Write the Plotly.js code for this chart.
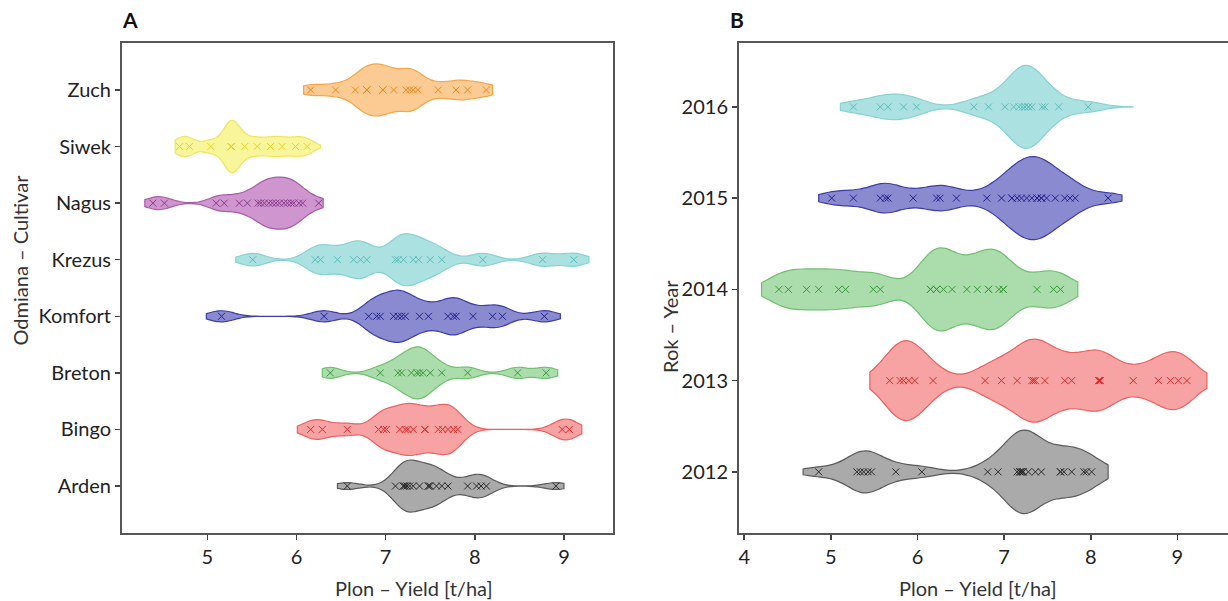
<!DOCTYPE html>
<html>
<head>
<meta charset="utf-8">
<script src="https://cdn.plot.ly/plotly-3.0.1.min.js"></script>
<style>
html,body{margin:0;padding:0;overflow:hidden;background:#fff;}
#chart{width:1240px;height:601px;}
</style>
</head>
<body>
<div id="chart"></div>
<script>
// ---------- Panel A: cultivars ----------
const cultivars = ["Arden","Bingo","Breton","Komfort","Krezus","Nagus","Siwek","Zuch"];
const arden   = [6.57,7.11,7.20,7.20,7.22,7.24,7.27,7.31,7.38,7.48,7.48,7.50,7.57,7.63,7.70,7.92,8.02,8.07,8.13,8.91];
const bingo   = [6.16,6.29,6.57,6.92,6.98,7.01,7.16,7.22,7.25,7.31,7.44,7.44,7.59,7.64,7.70,7.76,7.81,8.98,9.06];
const breton  = [6.38,6.94,7.14,7.18,7.29,7.35,7.38,7.42,7.50,7.63,7.92,8.48,8.80];
const komfort = [5.16,6.31,6.81,6.90,6.94,7.09,7.14,7.18,7.22,7.38,7.48,7.70,7.76,7.79,7.98,8.20,8.31,8.78];
const krezus  = [5.51,6.21,6.27,6.46,6.64,6.72,6.79,7.11,7.14,7.20,7.31,7.37,7.50,7.63,8.09,8.76,9.11];
const nagus   = [4.39,4.52,5.10,5.19,5.36,5.45,5.57,5.60,5.64,5.69,5.73,5.77,5.81,5.86,5.90,5.94,5.97,6.03,6.07,6.25];
const siwek   = [4.69,4.80,5.04,5.27,5.27,5.27,5.27,5.42,5.56,5.71,5.84,5.99,6.12];
const zuch    = [6.16,6.44,6.66,6.79,6.79,6.79,6.97,6.97,6.97,7.09,7.23,7.27,7.31,7.36,7.59,7.79,7.92,8.13];
const cultivarData  = [arden,bingo,breton,komfort,krezus,nagus,siwek,zuch];
const cultivarSpans = [[6.46,9.00],[6.01,9.20],[6.29,8.93],[4.99,8.96],[5.32,9.28],[4.30,6.30],[4.64,6.27],[6.08,8.20]];

// ---------- Panel B: years ----------
const years = ["2012","2013","2014","2015","2016"];
const y2012 = [4.86,5.30,5.34,5.38,5.43,5.47,5.75,6.05,6.81,6.93,7.15,7.18,7.18,7.20,7.20,7.22,7.22,7.28,7.36,7.43,7.65,7.65,7.69,7.78,7.92,7.95,8.01];
const y2013 = [5.68,5.80,5.84,5.90,5.97,6.18,6.78,6.97,7.15,7.32,7.34,7.36,7.47,7.70,7.78,8.09,8.10,8.11,8.49,8.78,8.92,9.01,9.11];
const y2014 = [4.40,4.51,4.72,4.86,5.09,5.17,5.49,5.57,6.15,6.15,6.22,6.22,6.30,6.40,6.57,6.69,6.82,6.82,6.94,6.99,6.99,7.38,7.57,7.65];
const y2015 = [5.01,5.26,5.57,5.63,5.66,5.95,6.22,6.26,6.45,6.80,6.97,7.09,7.09,7.15,7.20,7.26,7.32,7.38,7.38,7.43,7.43,7.49,7.59,7.70,7.76,7.82,8.20];
const y2016 = [5.26,5.57,5.66,5.84,5.99,6.65,6.82,7.01,7.11,7.17,7.21,7.24,7.24,7.28,7.28,7.32,7.44,7.47,7.63,7.97];
const yearData  = [y2012,y2013,y2014,y2015,y2016];
const yearSpans = [[4.68,8.20],[5.45,9.34],[4.20,7.85],[4.86,8.36],[5.11,8.49]];

// ---------- styles ----------
const cultFill = ["#aaaaaa","#f7a3a3","#abdcab","#8a8ad0","#abe1e1","#cf95cf","#f9f59a","#fccb93"];
const cultLine = ["#5a5a5a","#ec6060","#70c070","#3c3ca8","#86d2d2","#a85ca8","#eee560","#f5a64a"];
const cultMark = ["#2a2a2a","#e02828","#3a9a3a","#22228a","#5cbcbc","#8a3a8a","#e2d21e","#ef8a1e"];
const cultBw   = [0.13,0.13,0.12,0.14,0.14,0.12,0.09,0.13];
const yearFill = ["#aaaaaa","#f7a3a3","#abdcab","#8a8ad0","#abe1e1"];
const yearLine = ["#5a5a5a","#ec6060","#70c070","#3c3ca8","#86d2d2"];
const yearMark = ["#2a2a2a","#e02828","#3a9a3a","#22228a","#5cbcbc"];
const yearBw   = [0.2,0.2,0.2,0.18,0.18];

const traces = [];
function addViolin(vals, cat, span, fill, line, mark, xa, ya, bw, w){
  traces.push({
    type:"violin", orientation:"h",
    x: vals, y: vals.map(()=>cat),
    xaxis:xa, yaxis:ya,
    spanmode:"manual", span: span,
    bandwidth: bw, scalemode:"width", width: w,
    fillcolor: fill, line:{color: line, width:1.2},
    points:"all", jitter:0, pointpos:0,
    marker:{symbol:"x-thin", size:7, color: mark, line:{color: mark, width:1}},
    box:{visible:false}, meanline:{visible:false},
    hoverinfo:"x", showlegend:false
  });
}
cultivars.forEach((c,i)=>addViolin(cultivarData[i], c, cultivarSpans[i], cultFill[i], cultLine[i], cultMark[i], "x", "y", cultBw[i], 0.92));
years.forEach((c,i)=>addViolin(yearData[i], c, yearSpans[i], yearFill[i], yearLine[i], yearMark[i], "x2", "y2", yearBw[i], 0.91));

const W = 1240, H = 601;
const fontFam = "Lato, Open Sans, DejaVu Sans, sans-serif";
const FS = 20;
const axisCommon = {
  showline:true, mirror:true, linecolor:"#555555", linewidth:2,
  ticks:"outside", ticklen:5, tickcolor:"#444444", tickwidth:1.5,
  showgrid:false, zeroline:false,
  tickfont:{family:fontFam, size:FS, color:"#222222"},
  fixedrange:true
};

const layout = {
  width: W, height: H,
  margin:{l:0,r:0,t:0,b:0},
  paper_bgcolor:"#ffffff", plot_bgcolor:"#ffffff",
  font:{family:fontFam, color:"#333333"},
  violinmode:"overlay",
  xaxis: Object.assign({}, axisCommon, {
    domain:[122/W, 613/W], anchor:"y",
    range:[4.044, 9.55], tickvals:[5,6,7,8,9]
  }),
  yaxis: Object.assign({}, axisCommon, {
    domain:[(H-533)/H, (H-43)/H], anchor:"x",
    type:"category", categoryorder:"array", categoryarray: cultivars,
    range:[-0.83, 7.83]
  }),
  xaxis2: Object.assign({}, axisCommon, {
    domain:[739/W, 1232/W], anchor:"y2",
    range:[3.94, 9.63], tickvals:[4,5,6,7,8,9]
  }),
  yaxis2: Object.assign({}, axisCommon, {
    domain:[(H-533)/H, (H-43)/H], anchor:"x2",
    type:"category", categoryorder:"array", categoryarray: years,
    range:[-0.67, 4.70]
  }),
  annotations:[
    {text:"<b>A</b>", xref:"paper", yref:"paper", x:129.5/W, y:(H-19.5)/H, xanchor:"center", yanchor:"middle", showarrow:false, font:{family:fontFam, size:21, color:"#111111"}},
    {text:"<b>B</b>", xref:"paper", yref:"paper", x:736.5/W, y:(H-19.5)/H, xanchor:"center", yanchor:"middle", showarrow:false, font:{family:fontFam, size:21, color:"#111111"}},
    {text:"Plon – Yield [t/ha]", xref:"paper", yref:"paper", x:414/W, y:(H-588)/H, xanchor:"center", yanchor:"middle", showarrow:false, font:{family:fontFam, size:FS, color:"#333333"}},
    {text:"Plon – Yield [t/ha]", xref:"paper", yref:"paper", x:978/W, y:(H-588)/H, xanchor:"center", yanchor:"middle", showarrow:false, font:{family:fontFam, size:FS, color:"#333333"}},
    {text:"Odmiana – Cultivar", xref:"paper", yref:"paper", x:19.5/W, y:(H-260)/H, xanchor:"center", yanchor:"middle", textangle:-90, showarrow:false, font:{family:fontFam, size:FS, color:"#333333"}},
    {text:"Rok – Year", xref:"paper", yref:"paper", x:670/W, y:(H-327)/H, xanchor:"center", yanchor:"middle", textangle:-90, showarrow:false, font:{family:fontFam, size:FS, color:"#333333"}}
  ]
};

Plotly.newPlot("chart", traces, layout, {displayModeBar:false, staticPlot:true});
</script>
</body>
</html>
